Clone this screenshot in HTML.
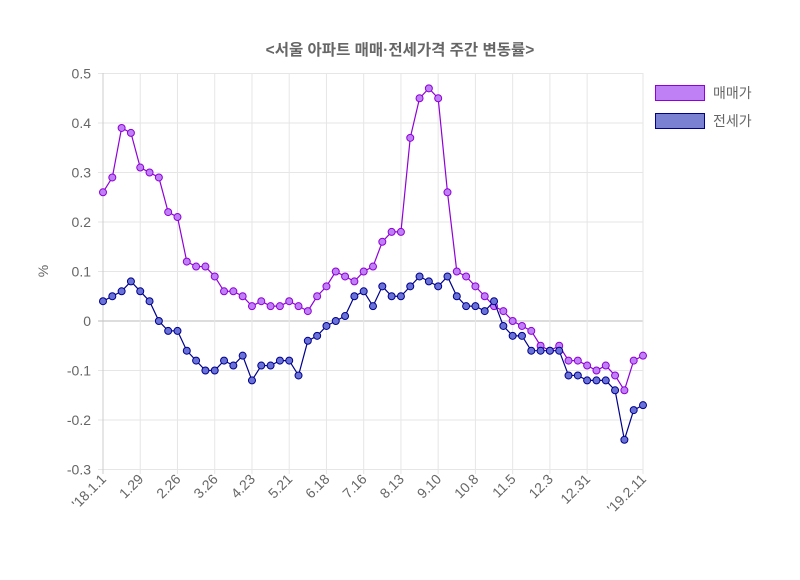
<!DOCTYPE html>
<html><head><meta charset="utf-8"><style>
body{margin:0;background:#fff;}
svg text{font-family:"Liberation Sans","Noto Sans CJK KR",sans-serif;fill:#666;}
</style></head><body>
<svg id="s" width="800" height="575" xmlns="http://www.w3.org/2000/svg"></svg>
<script>
const s=document.getElementById('s');
const a=[.26,.29,.39,.38,.31,.30,.29,.22,.21,.12,.11,.11,.09,.06,.06,.05,.03,.04,.03,.03,.04,.03,.02,.05,.07,.10,.09,.08,.10,.11,.16,.18,.18,.37,.45,.47,.45,.26,.10,.09,.07,.05,.03,.02,0,-.01,-.02,-.05,-.06,-.05,-.08,-.08,-.09,-.10,-.09,-.11,-.14,-.08,-.07];
const b=[.04,.05,.06,.08,.06,.04,0,-.02,-.02,-.06,-.08,-.10,-.10,-.08,-.09,-.07,-.12,-.09,-.09,-.08,-.08,-.11,-.04,-.03,-.01,0,.01,.05,.06,.03,.07,.05,.05,.07,.09,.08,.07,.09,.05,.03,.03,.02,.04,-.01,-.03,-.03,-.06,-.06,-.06,-.06,-.11,-.11,-.12,-.12,-.12,-.14,-.24,-.18,-.17];
const X=i=>103+i*540/58, Y=v=>321-v*495;
let h='';
h+='<text x="400" y="55" text-anchor="middle" font-size="15.5" font-weight="bold">&lt;서울 아파트 매매·전세가격 주간 변동률&gt;</text>';
for(let k=-3;k<=5;k++){const y=Y(k/10);h+=`<line x1="98" x2="643" y1="${y}" y2="${y}" stroke="${k==0?'#bbb':'#e6e6e6'}"/>`;
h+=`<text x="91" y="${y+5}" text-anchor="end" font-size="14">${k==0?'0':(k/10).toFixed(1)}</text>`;}
const labs=["'18.1.1","1.29","2.26","3.26","4.23","5.21","6.18","7.16","8.13","9.10","10.8","11.5","12.3","12.31"];
labs.forEach((l,j)=>{const x=X(j*4);h+=`<line x1="${x}" x2="${x}" y1="73" y2="474" stroke="${j==0?'#ccc':'#e6e6e6'}"/>`;
h+=`<text transform="translate(${x+4},${480}) rotate(-45)" text-anchor="end" font-size="14">${l}</text>`;});
h+=`<line x1="643" x2="643" y1="73" y2="474" stroke="#e6e6e6"/>`;
h+=`<text transform="translate(${647},${480}) rotate(-45)" text-anchor="end" font-size="14">'19.2.11</text>`;
h+='<text transform="translate(48,271) rotate(-90)" text-anchor="middle" font-size="14">%</text>';
function ser(d,lc,fc){h+=`<polyline fill="none" stroke="${lc}" stroke-width="1.2" points="${d.map((v,i)=>X(i)+','+Y(v)).join(' ')}"/>`;
d.forEach((v,i)=>h+=`<circle cx="${X(i)}" cy="${Y(v)}" r="3.5" fill="${fc}" stroke="${lc}" stroke-width="1"/>`);}
ser(a,'#9000d8','#bf7ff5');ser(b,'#00008c','#6a72d8');
h+='<rect x="655.5" y="85.5" width="49" height="15" fill="#bf7ff5" stroke="#9000d8"/><text x="713" y="98" font-size="14">매매가</text>';
h+='<rect x="655.5" y="113.5" width="49" height="15" fill="#7a80d2" stroke="#00008c"/><text x="713" y="126" font-size="14">전세가</text>';
s.innerHTML=h;
</script>
</body></html>
